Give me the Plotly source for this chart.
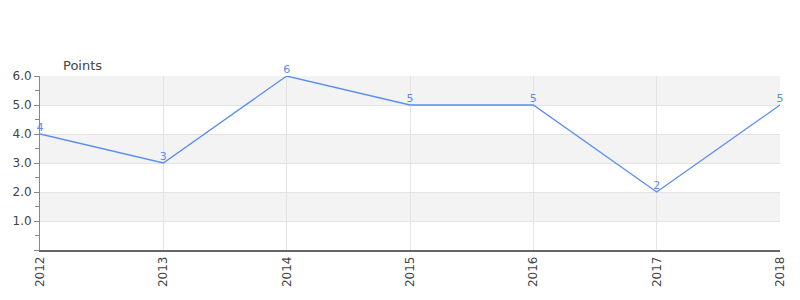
import plotly.graph_objects as go

years = [2012, 2013, 2014, 2015, 2016, 2017, 2018]
points = [4, 3, 6, 5, 5, 2, 5]
y_ticks = [0, 1, 2, 3, 4, 5, 6]
y_labels = ["", "1.0", "2.0", "3.0", "4.0", "5.0", "6.0"]
bands = [(1, 2), (3, 4), (5, 6)]

line_color = "#5a8ef0"

fig = go.Figure()
fig.add_trace(go.Scatter(
    x=years, y=points, mode="lines+text",
    text=[str(v) for v in points], textposition="top center",
    textfont=dict(color=line_color, size=11, family="DejaVu Sans"),
    line=dict(color=line_color, width=1.3),
    cliponaxis=False, hoverinfo="skip",
))

shapes = []
for lo, hi in bands:
    shapes.append(dict(type="rect", xref="paper", yref="y", x0=0, x1=1, y0=lo, y1=hi,
                       fillcolor="#f3f3f3", line=dict(width=0), layer="below"))

fig.update_layout(
    width=800, height=300,
    margin=dict(l=40, r=20, t=76, b=50),
    paper_bgcolor="white", plot_bgcolor="white",
    showlegend=False,
    font=dict(family="DejaVu Sans", size=12, color="#444"),
    shapes=shapes,
    annotations=[dict(text="Points", xref="paper", yref="paper", x=0.028, y=1.0,
                      xanchor="left", yanchor="bottom", yshift=1, showarrow=False,
                      font=dict(size=13, color="#444", family="DejaVu Sans"))],
    xaxis=dict(
        range=[years[0], years[-1]], tickvals=years, ticktext=[str(y) for y in years],
        tickangle=-90, showgrid=True, gridcolor="#e3e3e3", gridwidth=1,
        showline=True, linecolor="#666", linewidth=1.5, zeroline=False,
        ticks="", tickfont=dict(size=12, color="#444"), layer="below traces",
    ),
    yaxis=dict(
        range=[0, 6], tickvals=y_ticks, ticktext=y_labels,
        showgrid=True, gridcolor="#e3e3e3", gridwidth=1,
        zeroline=True, zerolinecolor="red", zerolinewidth=1,
        showline=True, linecolor="#888", linewidth=1,
        ticks="outside", ticklen=5, tickcolor="#888",
        minor=dict(dtick=0.5, tick0=0, ticks="outside", ticklen=4, tickcolor="#888", showgrid=False),
        tickfont=dict(size=12, color="#444"),
    ),
)

fig.write_html("out.html")
